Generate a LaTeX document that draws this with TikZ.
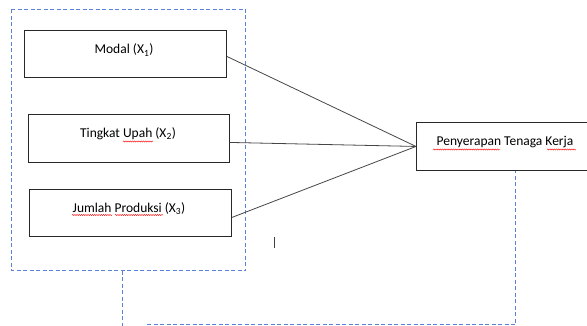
\documentclass[tikz,border=0pt]{standalone}
\usepackage{fontspec}
\setmainfont{Carlito}
\usetikzlibrary{decorations.pathmorphing}
\definecolor{dashblue}{RGB}{90,130,215}
\definecolor{boxline}{RGB}{40,40,40}
\definecolor{connline}{RGB}{70,70,70}
\tikzset{
  varbox/.style={draw=boxline, line width=0.9pt, anchor=north west, inner sep=0pt},
  lbl/.style={font=\fontsize{13.5}{15}\selectfont, inner sep=0pt},
  conn/.style={draw=connline, line width=0.8pt},
  blued/.style={draw=dashblue, line width=1.1pt, dash pattern=on 4pt off 2.5pt},
  squig/.style={draw=red, line width=0.4pt, decorate, decoration={snake, amplitude=0.6pt, segment length=2.2pt}}
}
\begin{document}
\begin{tikzpicture}[x=1pt, y=-1pt]
\useasboundingbox (0,0) rectangle (587,326);
% outer dashed group
\node (grp) [anchor=north west, minimum width=234pt, minimum height=261pt, inner sep=0pt] at (11.5,9.5) {};
\draw[blued] (grp.north west) rectangle (grp.south east);
% boxes
\node (m) [varbox, minimum width=202pt, minimum height=47pt] at (24,30) {};
\node (t) [varbox, minimum width=201pt, minimum height=48pt] at (28,114) {};
\node (j) [varbox, minimum width=202pt, minimum height=47pt] at (29,189) {};
\node (p) [varbox, minimum width=175pt, minimum height=48pt] at (416,122) {};
% labels
\node (mt) [lbl] at (124,50) {Modal (X\textsubscript{1})};
\node (tt) [lbl] at (128,134) {Tingkat Upah (X\textsubscript{2})};
\node (jt) [lbl] at (129,209) {Jumlah Produksi (X\textsubscript{3})};
\node (pt) [lbl] at (505,142) {Penyerapan Tenaga Kerja};
% spelling squiggles
\coordinate (s1a) at (123,141.5); \coordinate (s1b) at (153,141.5);
\coordinate (s2a) at (72,215); \coordinate (s2b) at (112,215);
\coordinate (s3a) at (115,215); \coordinate (s3b) at (163,215);
\coordinate (s4a) at (433,149.5); \coordinate (s4b) at (500,149.5);
\coordinate (s5a) at (547,149.5); \coordinate (s5b) at (576,149.5);
\draw[squig] (s1a) -- (s1b);
\draw[squig] (s2a) -- (s2b);
\draw[squig] (s3a) -- (s3b);
\draw[squig] (s4a) -- (s4b);
\draw[squig] (s5a) -- (s5b);
% connectors
\draw[conn] ([yshift=-2.5pt]m.east) -- (p.west);
\draw[conn] ([yshift=-4pt]t.east) -- (p.west);
\draw[conn] ([yshift=-4.5pt]j.east) -- (p.west);
% cursor mark
\node (cur) [inner sep=0pt, minimum width=1pt, minimum height=11pt, fill=black!75] at (274,242.5) {};
% bottom dashed connector
\coordinate (b1) at (122.5,326);
\coordinate (b2) at (147,324.5);
\coordinate (b3) at (515.5,324.5);
\draw[blued] (grp.south -| b1) -- (b1);
\draw[blued] (b2) -- (b3) -- (p.south -| b3);
\end{tikzpicture}
\end{document}
